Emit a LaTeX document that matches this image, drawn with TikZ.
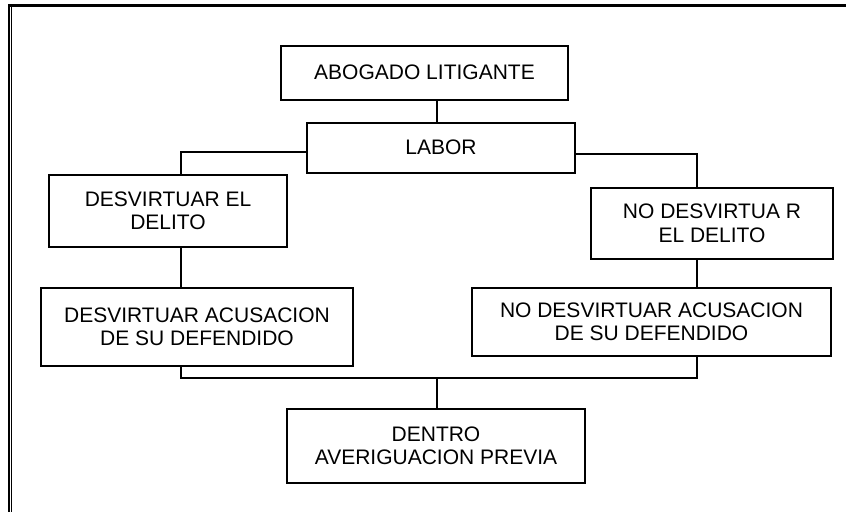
\documentclass[tikz,border=0pt]{standalone}
\usepackage{fontspec}
\setmainfont{Liberation Sans}
\begin{document}
\begin{tikzpicture}[x=1pt,y=-1pt,
  box/.style={draw=black,line width=1.8pt,inner sep=0pt,align=center,
    font=\fontsize{21}{23.5}\selectfont},
  link/.style={draw=black,line width=1.6pt}]
\useasboundingbox (0,0) rectangle (846,512);
% frame
\draw[line width=3pt] (8,5.5) -- (846,5.5);
\draw[line width=2pt] (9.2,4) -- (9.2,512);
\draw[line width=1.2pt] (11.8,7) -- (11.8,512);
% boxes
\node[box,minimum width=287pt,minimum height=54pt] (abog) at (424.5,73) {\raisebox{2pt}{ABOGADO LITIGANTE}};
\node[box,minimum width=268pt,minimum height=50pt] (labor) at (441,148) {\raisebox{1pt}{LABOR}};
\node[box,minimum width=238pt,minimum height=72pt] (delito) at (168,211) {DESVIRTUAR EL\\DELITO};
\node[box,minimum width=242pt,minimum height=71pt] (nodel) at (712,223.5) {NO DESVIRTUA R\\EL DELITO};
\node[box,minimum width=312pt,minimum height=78pt] (acus) at (197,327) {DESVIRTUAR ACUSACION\\DE SU DEFENDIDO};
\node[box,minimum width=359pt,minimum height=68pt] (noacus) at (651.5,322) {NO DESVIRTUAR ACUSACION\\DE SU DEFENDIDO};
\node[box,minimum width=298pt,minimum height=74pt] (dentro) at (436,446) {DENTRO\\AVERIGUACION PREVIA};
% axes
\coordinate (axis) at (436.7,0);
\coordinate (lx) at (181,0);
\coordinate (rx) at (697,0);
\coordinate (join) at (436.7,378);
% connectors
\draw[link] (abog.south -| axis) -- (labor.north -| axis);
\draw[link] ([yshift=-4pt]labor.west) -| (delito.north -| lx);
\draw[link] ([yshift=-6pt]labor.east) -| (nodel.north -| rx);
\draw[link] (delito.south -| lx) -- (acus.north -| lx);
\draw[link] (nodel.south -| rx) -- (noacus.north -| rx);
\draw[link] (acus.south -| lx) |- (join) -| (noacus.south -| rx);
\draw[link] (join) -- (dentro.north -| join);
\end{tikzpicture}
\end{document}
